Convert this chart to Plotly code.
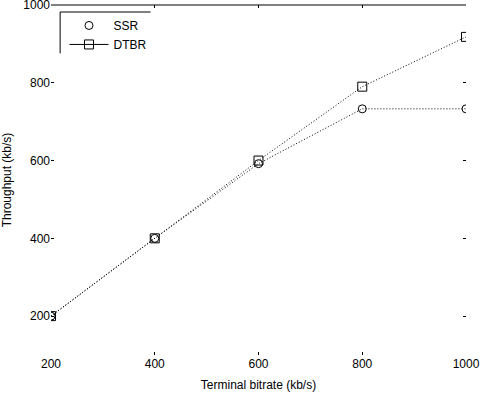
import plotly.graph_objects as go

terminal_bitrate = [200, 400, 600, 800, 1000]
ssr_throughput = [200, 400, 592, 733, 733]
dtbr_throughput = [200, 400, 600, 790, 918]

x_ticks = [200, 400, 600, 800, 1000]
y_ticks = [200, 400, 600, 800, 1000]

font = dict(family="Liberation Sans, Arial", size=12, color="black")

fig = go.Figure()
fig.add_trace(go.Scatter(x=terminal_bitrate, y=ssr_throughput, mode="lines+markers",
                         line=dict(color="black", width=1, dash="1px,2px"),
                         marker=dict(symbol="circle-open", size=8, color="black", line=dict(width=1)),
                         showlegend=False))
fig.add_trace(go.Scatter(x=terminal_bitrate, y=dtbr_throughput, mode="lines+markers",
                         line=dict(color="black", width=1, dash="1px,2px"),
                         marker=dict(symbol="square-open", size=9, color="black", line=dict(width=1)),
                         showlegend=False))
fig.add_trace(go.Scatter(x=[None], y=[None], mode="markers", name="SSR",
                         marker=dict(symbol="circle-open", size=8, color="black", line=dict(width=1))))
fig.add_trace(go.Scatter(x=[None], y=[None], mode="lines+markers", name="DTBR",
                         line=dict(color="black", width=1),
                         marker=dict(symbol="square-open", size=9, color="black", line=dict(width=1))))

fig.update_layout(
    width=482, height=393,
    margin=dict(l=51, r=16, t=5, b=38, autoexpand=False),
    paper_bgcolor="white", plot_bgcolor="white",
    font=font,
    showlegend=True,
    legend=dict(x=0.0325, y=0.983, xanchor="left", yanchor="top", bgcolor="rgba(0,0,0,0)",
                font=font, itemwidth=39, tracegroupgap=2),
    xaxis=dict(range=[200, 1000], tickvals=x_ticks, showgrid=False, zeroline=False,
               ticks="inside", ticklen=3, tickcolor="black", mirror="ticks", automargin=False,
               ticklabeloverflow="allow",
               title=dict(text="Terminal bitrate (kb/s)", standoff=10, font=font),
               tickfont=font, showline=False),
    yaxis=dict(range=[100, 1000], tickvals=y_ticks, showgrid=False, zeroline=False,
               ticks="inside", ticklen=3, tickcolor="black", mirror="ticks", automargin=False,
               ticklabeloverflow="allow",
               title=dict(text="Throughput (kb/s)", standoff=9, font=font),
               tickfont=font, showline=False),
    shapes=[
        dict(type="line", xref="paper", yref="paper", x0=0, x1=1, y0=1, y1=1,
             line=dict(color="black", width=1)),
        dict(type="line", xref="paper", yref="paper", x0=0.022, x1=0.24, y0=0.98, y1=0.98,
             line=dict(color="black", width=1)),
        dict(type="line", xref="paper", yref="paper", x0=0.022, x1=0.022, y0=0.98, y1=0.862,
             line=dict(color="black", width=1)),
    ],
)

fig.write_html("out.html", config={"displayModeBar": False},
               post_script="document.body.style.margin='0';document.body.style.padding='0';")
